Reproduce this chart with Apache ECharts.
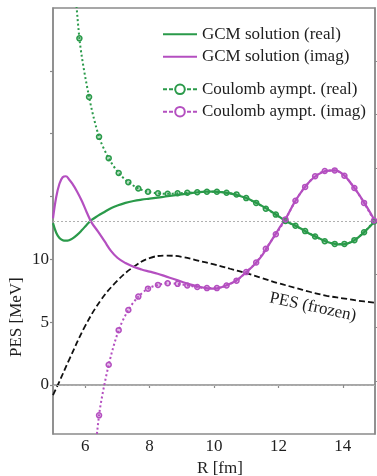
<!DOCTYPE html>
<html>
<head>
<meta charset="utf-8">
<script src="https://cdn.jsdelivr.net/npm/echarts@6/dist/echarts.min.js"></script>
<style>
  html, body { margin: 0; padding: 0; background: #fff; }
  #chart { width: 377px; height: 476px; }
</style>
</head>
<body>
<div id="chart"></div>
<script>
// Radial grid (fm) for the GCM wave functions
const gcmR = [5.0, 5.1, 5.2, 5.3, 5.4, 5.5, 5.6, 5.75, 5.9, 6.05, 6.2, 6.4, 6.6, 6.8, 7.0,
  7.25, 7.5, 7.75, 8.0, 8.25, 8.5, 8.75, 9.0, 9.25, 9.5, 9.75, 10.0, 10.25, 10.5, 10.75,
  11.0, 11.25, 11.5, 11.75, 12.0, 12.25, 12.5, 12.75, 13.0, 13.25, 13.5, 13.75, 14.0,
  14.25, 14.5, 14.75, 15.0];
const gcmReal = [-0.04, -0.22, -0.32, -0.36, -0.37, -0.36, -0.33, -0.26, -0.17, -0.07, 0.02,
  0.10, 0.17, 0.24, 0.29, 0.34, 0.375, 0.40, 0.42, 0.44, 0.46, 0.48, 0.50, 0.52, 0.54, 0.55,
  0.55, 0.54, 0.52, 0.48, 0.43, 0.36, 0.28, 0.19, 0.09, -0.01, -0.08, -0.16, -0.25, -0.32,
  -0.39, -0.43, -0.44, -0.40, -0.30, -0.16, 0.0];
const gcmImag = [0.05, 0.45, 0.70, 0.82, 0.84, 0.78, 0.70, 0.55, 0.37, 0.16, -0.03, -0.20,
  -0.38, -0.56, -0.69, -0.79, -0.86, -0.91, -0.95, -0.99, -1.04, -1.09, -1.14, -1.19, -1.23,
  -1.26, -1.27, -1.24, -1.18, -1.09, -0.96, -0.82, -0.64, -0.40, -0.16, 0.07, 0.35, 0.58,
  0.76, 0.88, 0.94, 0.95, 0.88, 0.71, 0.50, 0.26, 0.0];

// Coulomb asymptotic solution, sampled on its own grid
const coulR = [5.51, 5.82, 6.12, 6.43, 6.73, 7.04, 7.34, 7.65, 7.95, 8.26, 8.56, 8.87, 9.17,
  9.48, 9.78, 10.09, 10.39, 10.70, 11.00, 11.31, 11.61, 11.92, 12.22, 12.53, 12.83, 13.14,
  13.44, 13.75, 14.05, 14.36, 14.66, 14.97];
const coulReal = [5.9, 3.43, 2.33, 1.58, 1.18, 0.90, 0.73, 0.61, 0.55, 0.52, 0.51, 0.52, 0.53,
  0.54, 0.55, 0.55, 0.53, 0.50, 0.43, 0.34, 0.23, 0.12, 0.00, -0.09, -0.19, -0.29, -0.38,
  -0.43, -0.43, -0.36, -0.21, -0.01];
const coulImag = [null, null, -5.6, -3.65, -2.70, -2.05, -1.67, -1.42, -1.27, -1.20, -1.17,
  -1.18, -1.21, -1.24, -1.26, -1.26, -1.21, -1.12, -0.96, -0.78, -0.52, -0.25, 0.03, 0.38,
  0.64, 0.84, 0.94, 0.95, 0.85, 0.62, 0.34, 0.01];

// Frozen potential energy surface (MeV)
const pesR = [5.0, 5.15, 5.5, 6.0, 6.5, 7.0, 7.5, 8.0, 8.5, 9.0, 9.5, 10.0, 10.5, 11.0, 11.5,
  12.0, 12.5, 13.0, 13.5, 14.0, 14.5, 15.0];
const pesVal = [-0.8, 0.0, 2.0, 4.7, 6.8, 8.3, 9.4, 10.1, 10.3, 10.2, 9.9, 9.6, 9.25, 8.9, 8.5,
  8.1, 7.75, 7.4, 7.1, 6.9, 6.7, 6.55];

const xTicks = [6, 8, 10, 12, 14];
const pesTickLabels = [0, 5, 10];
const pesTicks = [0, 5, 10, 15, 20, 25];
const waveTicks = [-3, -2, -1, 0, 1, 2, 3];

const GREEN = '#2a9a4a';
const MAGENTA = '#b44fc0';
const AXIS = '#8a8a8a';
const TEXT = '#1e1e1e';
const SERIF = '"Liberation Serif", "DejaVu Serif", serif';

const zip = (xs, ys) => xs.map((x, i) => [x, ys[i]]).filter(p => p[1] !== null);

const chart = echarts.init(document.getElementById('chart'), null, { renderer: 'canvas' });

const refLine = {
  silent: true,
  symbol: 'none',
  label: { show: false },
  lineStyle: { color: '#b0b0b0', type: [2, 2], width: 1.2 },
  data: [{ yAxis: 0 }]
};

const legendText = { fontFamily: SERIF, fontSize: 17, color: TEXT, lineHeight: 20 };
const legendBase = {
  orient: 'vertical', left: 162, padding: 0, itemWidth: 34, itemHeight: 12, itemGap: 2.4,
  selectedMode: false, textStyle: legendText
};

chart.setOption({
  animation: false,
  backgroundColor: '#fff',
  grid: {
    left: 53, right: 2, top: 8, bottom: 42,
    containLabel: false, outerBoundsMode: 'none',
    show: true, borderColor: AXIS, borderWidth: 1.5
  },
  legend: [
    Object.assign({}, legendBase, {
      top: 24.3,
      data: [
        { name: 'GCM solution (real)', itemStyle: { opacity: 0 } },
        { name: 'GCM solution (imag)', itemStyle: { opacity: 0 } }
      ]
    }),
    Object.assign({}, legendBase, {
      top: 79.3,
      data: [
        { name: 'Coulomb aympt. (real)', lineStyle: { type: [4, 2] }, itemStyle: { color: '#fff' } },
        { name: 'Coulomb aympt. (imag)', lineStyle: { type: [4, 2] }, itemStyle: { color: '#fff' } }
      ]
    })
  ],
  xAxis: {
    type: 'value', min: 5, max: 15,
    name: 'R [fm]', nameLocation: 'middle', nameGap: 16,
    nameTextStyle: { fontFamily: SERIF, fontSize: 17, color: TEXT, verticalAlign: 'top', padding: [0, 0, 0, 12] },
    axisLine: { show: true, lineStyle: { color: AXIS, width: 1.5 } },
    axisTick: { show: true, length: 3, lineStyle: { color: AXIS, width: 1.2 }, customValues: xTicks },
    axisLabel: { fontFamily: SERIF, fontSize: 17, color: TEXT, margin: 4, customValues: xTicks },
    splitLine: { show: false }
  },
  yAxis: [
    {
      type: 'value', min: -3.9, max: 30, position: 'left',
      axisLine: { show: true, lineStyle: { color: AXIS, width: 1.5 } },
      axisTick: { show: true, length: 3, lineStyle: { color: AXIS, width: 1.2 }, customValues: pesTicks },
      axisLabel: { fontFamily: SERIF, fontSize: 17, color: TEXT, margin: 4, customValues: pesTickLabels },
      splitLine: { show: false }
    },
    {
      type: 'value', min: -4, max: 4, position: 'right',
      axisLine: { show: true, lineStyle: { color: AXIS, width: 1.5 } },
      axisTick: { show: true, length: 3, lineStyle: { color: AXIS, width: 1.2 }, customValues: waveTicks },
      axisLabel: { show: false },
      splitLine: { show: false }
    }
  ],
  series: [
    {
      name: 'PES (frozen)', type: 'line', yAxisIndex: 0, smooth: 0.4,
      data: zip(pesR, pesVal), symbol: 'none',
      lineStyle: { color: '#111', width: 1.8, type: [6, 3] },
      markLine: refLine, z: 3
    },
    {
      name: 'GCM solution (real)', type: 'line', yAxisIndex: 1, smooth: 0.4,
      data: zip(gcmR, gcmReal), symbol: 'none',
      itemStyle: { color: GREEN },
      lineStyle: { color: GREEN, width: 2.2 },
      markLine: refLine, z: 4
    },
    {
      name: 'GCM solution (imag)', type: 'line', yAxisIndex: 1, smooth: 0.4,
      data: zip(gcmR, gcmImag), symbol: 'none',
      itemStyle: { color: MAGENTA },
      lineStyle: { color: MAGENTA, width: 2.2 }, z: 4
    },
    {
      name: 'Coulomb aympt. (real)', type: 'line', yAxisIndex: 1, smooth: 0.3,
      data: zip(coulR, coulReal), symbol: 'circle', symbolSize: 5, showSymbol: true,
      itemStyle: { color: 'rgba(42,154,74,0.35)', borderColor: GREEN, borderWidth: 1.5 },
      lineStyle: { color: GREEN, width: 2, type: [2, 2.5] }, z: 5
    },
    {
      name: 'Coulomb aympt. (imag)', type: 'line', yAxisIndex: 1, smooth: 0.3,
      data: zip(coulR, coulImag), symbol: 'circle', symbolSize: 5, showSymbol: true,
      itemStyle: { color: 'rgba(180,79,192,0.35)', borderColor: MAGENTA, borderWidth: 1.5 },
      lineStyle: { color: MAGENTA, width: 2, type: [2, 2.5] }, z: 5
    }
  ]
});

// Curve annotation and y-axis title, placed from data coordinates
const labelPos = chart.convertToPixel({ xAxisIndex: 0, yAxisIndex: 0 }, [13.07, 6.2]);
const yTitlePos = chart.convertToPixel({ xAxisIndex: 0, yAxisIndex: 0 }, [5, 5.4]);

chart.setOption({
  graphic: [
    {
      type: 'text', x: labelPos[0], y: labelPos[1], rotation: -0.21,
      style: {
        text: 'PES (frozen)', font: '17px ' + SERIF, fill: TEXT,
        align: 'center', verticalAlign: 'middle', textAlign: 'center', textVerticalAlign: 'middle'
      }
    },
    {
      type: 'text', x: 17, y: yTitlePos[1], rotation: Math.PI / 2,
      style: {
        text: 'PES [MeV]', font: '17px ' + SERIF, fill: TEXT,
        align: 'center', verticalAlign: 'middle', textAlign: 'center', textVerticalAlign: 'middle'
      }
    }
  ]
});
</script>
</body>
</html>
